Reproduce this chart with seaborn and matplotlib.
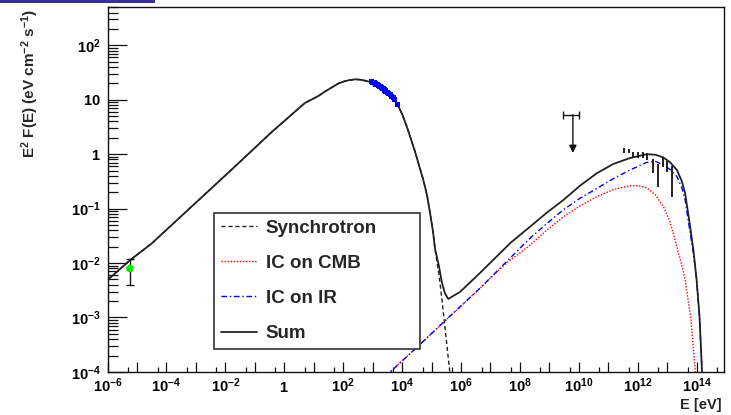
import numpy as np
import matplotlib
matplotlib.use("Agg")
import matplotlib.pyplot as plt
import seaborn as sns
from matplotlib.ticker import FixedLocator, FuncFormatter
from matplotlib.lines import Line2D
from matplotlib.patches import Rectangle

# ---------------- data (log10 E [eV], log10 E^2 F(E) [eV cm^-2 s^-1]) ----------------
sync_logE = [-6.10, -5.24, -4.50, -3.26, -1.78, -0.42, 0.70, 1.16, 1.38, 1.84, 2.05, 2.20, 2.40, 2.57,
             2.75, 2.97, 3.20, 3.40, 3.60, 3.82, 4.00, 4.16, 4.30, 4.45, 4.60, 4.72, 4.85, 4.95,
             5.05, 5.12, 5.25, 5.35, 5.46, 5.55, 5.65]
sync_logF = [-2.36, -1.95, -1.64, -1.02, -0.28, 0.41, 0.94, 1.07, 1.15, 1.30, 1.34, 1.36, 1.375, 1.37,
             1.35, 1.32, 1.25, 1.16, 1.06, 0.94, 0.74, 0.51, 0.28, 0.03, -0.25, -0.47, -0.76, -1.08,
             -1.42, -1.75, -2.20, -2.65, -3.20, -3.65, -4.15]

cmb_logE = [3.40, 4.50, 5.50, 6.65, 7.50, 8.35, 8.90, 9.48, 10.04, 10.61, 11.17, 11.74, 12.00,
            12.31, 12.60, 12.87, 13.10, 13.33, 13.50, 13.61, 13.80, 13.95, 14.05]
cmb_logF = [-4.10, -3.55, -3.04, -2.46, -2.02, -1.67, -1.40, -1.15, -0.95, -0.78, -0.65, -0.58, -0.58,
            -0.62, -0.75, -0.96, -1.25, -1.70, -2.05, -2.31, -3.00, -3.96, -4.60]

ir_logE = [3.40, 4.50, 5.50, 6.65, 7.50, 8.35, 8.90, 9.48, 10.04, 10.61, 11.17, 11.74, 12.31,
           12.60, 12.87, 13.10, 13.33, 13.50, 13.61, 13.78, 13.90, 14.00, 14.10, 14.18, 14.25]
ir_logF = [-4.10, -3.55, -3.04, -2.46, -2.00, -1.54, -1.28, -1.02, -0.81, -0.63, -0.45, -0.29, -0.15,
           -0.13, -0.20, -0.28, -0.41, -0.62, -0.84, -1.45, -1.85, -2.31, -3.00, -3.96, -4.60]

sum_logE = [-6.10, -5.24, -4.50, -3.26, -1.78, -0.42, 0.70, 1.16, 1.38, 1.84, 2.05, 2.20, 2.40, 2.57,
            2.75, 2.97, 3.20, 3.40, 3.60, 3.82, 4.00, 4.16, 4.30, 4.45, 4.60, 4.72, 4.85, 4.95,
            5.05, 5.12, 5.25, 5.35, 5.45, 5.57, 5.75,
            5.97, 6.30, 6.65, 7.10, 7.70, 8.35, 8.90, 9.48, 10.04, 10.61, 11.17, 11.74, 12.31,
            12.60, 12.87, 13.10, 13.33, 13.50, 13.61, 13.78, 13.89, 14.00, 14.10, 14.18, 14.25]
sum_logF = [-2.36, -1.95, -1.64, -1.02, -0.28, 0.41, 0.94, 1.07, 1.15, 1.30, 1.34, 1.36, 1.375, 1.37,
            1.35, 1.32, 1.25, 1.16, 1.06, 0.94, 0.74, 0.51, 0.28, 0.03, -0.25, -0.47, -0.76, -1.08,
            -1.42, -1.74, -2.05, -2.35, -2.55, -2.66, -2.60,
            -2.53, -2.36, -2.18, -1.94, -1.62, -1.33, -1.08, -0.84, -0.58, -0.35, -0.18, -0.07, 0.00,
            -0.01, -0.06, -0.15, -0.29, -0.50, -0.72, -1.33, -1.76, -2.31, -3.00, -3.96, -4.60]

# X-ray points (blue)
xray_logE = [2.95, 3.00, 3.05, 3.10, 3.15, 3.20, 3.25, 3.30, 3.35, 3.40, 3.45, 3.50,
             3.55, 3.60, 3.65, 3.70, 3.75, 3.85]
xray_logF = [1.33, 1.32, 1.31, 1.29, 1.28, 1.26, 1.24, 1.22, 1.20, 1.18, 1.16, 1.14,
             1.11, 1.09, 1.06, 1.04, 1.01, 0.92]
xray_err = 0.04

# TeV points (black bars: lower / upper ends)
tev_logE = [11.52, 11.69, 11.85, 12.02, 12.19, 12.33, 12.51, 12.70, 12.87, 12.99, 13.16]
tev_logLo = [0.029, 0.018, -0.044, -0.063, -0.074, -0.105, -0.338, -0.596, -0.228, -0.320, -0.780]
tev_logHi = [0.110, 0.092, 0.048, 0.037, 0.037, 0.018, -0.092, -0.184, -0.055, -0.118, -0.215]

# GeV upper limit
ul_logE = 9.80
ul_logE_lo = 9.46
ul_logE_hi = 9.99
ul_logF = 0.722

# radio point (green)
radio_logE = -5.24
radio_logF = -2.10
radio_logLo = -2.40
radio_logHi = -1.93

legend_labels = ["Synchrotron", "IC on CMB", "IC on IR", "Sum"]

# ---------------- style ----------------
sns.set_theme(style="white")
plt.rcParams['font.family'] = ['Liberation Sans', 'DejaVu Sans']
plt.rcParams['font.weight'] = 'bold'
plt.rcParams['mathtext.fontset'] = 'custom'
plt.rcParams['mathtext.rm'] = 'Liberation Sans:bold'
plt.rcParams['mathtext.bf'] = 'Liberation Sans:bold'
plt.rcParams['mathtext.it'] = 'Liberation Sans:bold:italic'
plt.rcParams['mathtext.sf'] = 'Liberation Sans:bold'
plt.rcParams['mathtext.default'] = 'rm'

W, H = 731, 415
fig = plt.figure(figsize=(W / 100, H / 100), dpi=100)
fig.patch.set_facecolor('white')
ax_l, ax_r, ax_t, ax_b = 107.5, 724.0, 7.3, 371.9
ax = fig.add_axes([ax_l / W, 1 - ax_b / H, (ax_r - ax_l) / W, (ax_b - ax_t) / H])
ax.set_facecolor('white')
ax.set_xscale('log')
ax.set_yscale('log')

p = lambda a: 10.0 ** np.asarray(a, dtype=float)

sync_style = dict(color='#202020', linestyle=(0, (3, 2)), linewidth=1.0)
cmb_style = dict(color='#ff0000', linestyle=(0, (1, 1.2)), linewidth=1.0)
ir_style = dict(color='#0000ff', linestyle=(0, (4, 2, 1, 2)), linewidth=1.0)
sum_style = dict(color='#222222', linestyle='-', linewidth=1.3)

sns.lineplot(x=p(sync_logE), y=p(sync_logF), ax=ax, sort=False, estimator=None, **sync_style)
sns.lineplot(x=p(cmb_logE), y=p(cmb_logF), ax=ax, sort=False, estimator=None, **cmb_style)
sns.lineplot(x=p(ir_logE), y=p(ir_logF), ax=ax, sort=False, estimator=None, **ir_style)
sns.lineplot(x=p(sum_logE), y=p(sum_logF), ax=ax, sort=False, estimator=None, **sum_style)

# X-ray data
xf = p(xray_logF)
ax.errorbar(p(xray_logE), xf, yerr=[xf - xf / 10 ** xray_err, xf * 10 ** xray_err - xf],
            fmt='none', ecolor='#0000ff', elinewidth=2.2, zorder=5)
sns.scatterplot(x=p(xray_logE), y=xf, ax=ax, color='#0000ff', s=14, marker='s',
                edgecolor='none', zorder=6)

# TeV data
ax.vlines(p(tev_logE), p(tev_logLo), p(tev_logHi), colors='#111111', linewidth=1.3, zorder=6)

# Upper limit
ulx, uly = p(ul_logE), p(ul_logF)
ax.errorbar([ulx], [uly], xerr=[[ulx - p(ul_logE_lo)], [p(ul_logE_hi) - ulx]],
            fmt='none', ecolor='#111111', elinewidth=1.0, capsize=3, capthick=1.0, zorder=6)
ax.annotate('', xy=(ulx, uly / 5.0), xytext=(ulx, uly),
            arrowprops=dict(arrowstyle='-|>', color='#111111', lw=1.0, mutation_scale=11,
                            shrinkA=0, shrinkB=0), zorder=6)

# Radio point
rx, ry = p(radio_logE), p(radio_logF)
ax.errorbar([rx], [ry], yerr=[[ry - p(radio_logLo)], [p(radio_logHi) - ry]],
            fmt='none', ecolor='#111111', elinewidth=1.0, capsize=3, capthick=1.0, zorder=6)
sns.scatterplot(x=[rx], y=[ry], ax=ax, color='#00ee00', s=30, edgecolor='none', zorder=7)

# ---------------- axes ----------------
ax.set_xlim(1e-6, 8.5e14)
ax.set_ylim(1e-4, 500)
ax.xaxis.set_major_locator(FixedLocator([10.0 ** k for k in range(-6, 15)]))
ax.xaxis.set_minor_locator(FixedLocator([5 * 10.0 ** k for k in range(-7, 15)]))
ax.yaxis.set_major_locator(FixedLocator([10.0 ** k for k in range(-4, 3)]))
ax.yaxis.set_minor_locator(FixedLocator([m * 10.0 ** k for k in range(-4, 3) for m in range(2, 10)]))


def xfmt(v, pos):
    k = int(round(np.log10(v)))
    if k % 2:
        return ''
    if k == 0:
        return r'$1$'
    return r'$10^{%d}$' % k


def yfmt(v, pos):
    k = int(round(np.log10(v)))
    if k == 0:
        return r'$1$'
    if k == 1:
        return r'$10$'
    return r'$10^{%d}$' % k


ax.xaxis.set_major_formatter(FuncFormatter(xfmt))
ax.yaxis.set_major_formatter(FuncFormatter(yfmt))
ax.tick_params(axis='both', which='both', direction='in', top=False, right=False,
               bottom=True, left=True,
               color='#111111', width=0.9, labelsize=10.5, labelcolor='black')
ax.tick_params(axis='y', which='major', length=13.5, pad=5)
ax.tick_params(axis='y', which='minor', length=7)
ax.tick_params(axis='x', which='major', length=7, pad=14.5)
ax.tick_params(axis='x', which='minor', length=3.6)
for lab in ax.get_xticklabels():
    lab.set_verticalalignment('baseline')

for s in ax.spines.values():
    s.set_color('#111111')
    s.set_linewidth(1.0)
    s.set_visible(True)

fig.text(30 / W, 1 - 9 / H, r'E$^{2}$ F(E) (eV cm$^{-2}$ s$^{-1}$)', rotation=90,
         ha='center', va='top', fontsize=11, fontweight='bold')
fig.text(722 / W, 1 - 405 / H, 'E [eV]', ha='right', va='center', fontsize=10.5, fontweight='bold')

# ---------------- legend ----------------
handles = [Line2D([], [], **sync_style), Line2D([], [], **cmb_style),
           Line2D([], [], **ir_style), Line2D([], [], **sum_style)]
leg_top = 1 - (213 - ax_t) / (ax_b - ax_t)
leg = ax.legend(handles, legend_labels, loc='upper left',
                bbox_to_anchor=((214 - ax_l) / (ax_r - ax_l), leg_top - 0.01,
                                (420 - 214) / (ax_r - ax_l), 0.01),
                mode='expand', borderaxespad=0, fancybox=False, shadow=False, framealpha=1,
                edgecolor='#333333', prop=dict(family='Liberation Sans', weight='bold', size=13.5),
                handlelength=1.95, handletextpad=0.45, labelspacing=0.96, borderpad=0.35)
leg.get_frame().set_linewidth(1.2)

# top-left banner remnant
fig.add_artist(Rectangle((0, 1 - 3 / H), 155 / W, 3 / H, transform=fig.transFigure,
                         color='#3a2f9a', lw=0))

fig.savefig('out.png', dpi=100, facecolor='white')
